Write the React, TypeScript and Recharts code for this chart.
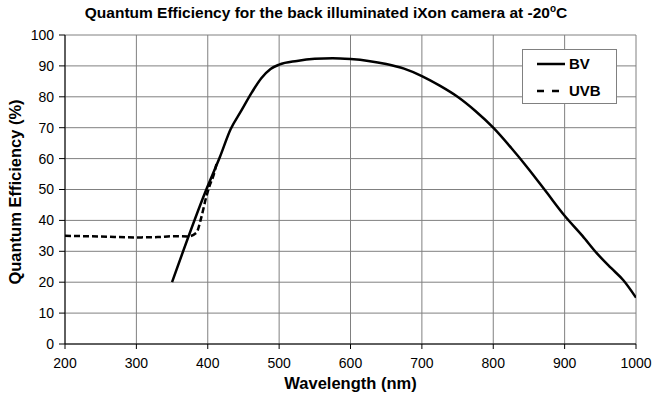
import { LineChart, Line, XAxis, YAxis, CartesianGrid } from 'recharts';

// BV (back illuminated, visible optimised) curve
const bvWavelength = [350, 398, 417, 432, 447, 462, 475, 488, 500, 525, 550, 575, 600, 625, 650, 675, 700, 725, 750, 775, 800, 825, 850, 875, 900, 925, 945, 965, 982, 1000];
const bvQE = [20, 50, 60.5, 69.5, 75.5, 81.5, 86, 89, 90.4, 91.6, 92.3, 92.5, 92.2, 91.6, 90.6, 89.1, 86.7, 83.6, 80, 75.4, 70, 63.5, 56.5, 49, 41.5, 35, 29.4, 24.6, 20.7, 15];

// UVB (UV coated) curve
const uvbWavelength = [200, 250, 300, 330, 350, 372, 384, 391, 398, 403, 408, 413];
const uvbQE = [35, 34.8, 34.5, 34.6, 34.9, 34.8, 36, 41, 47.7, 51.5, 54.5, 59];

const xTicks = [200, 300, 400, 500, 600, 700, 800, 900, 1000];
const yTicks = [0, 10, 20, 30, 40, 50, 60, 70, 80, 90, 100];

const bvData = bvWavelength.map((wl, i) => ({ wl, qe: bvQE[i] }));
const uvbData = uvbWavelength.map((wl, i) => ({ wl, qe: uvbQE[i] }));

const FONT = '"Liberation Sans", Arial, sans-serif';
const tickStyle = { fontSize: 14, fill: '#000', fontFamily: FONT };

function LegendBox() {
  const row = (label: string, dash?: string) => (
    <div style={{ display: 'flex', alignItems: 'center', height: 27 }}>
      <svg width={32} height={10} style={{ marginLeft: 12 }}>
        <line x1={2} y1={5} x2={30} y2={5} stroke="#000" strokeWidth={2.5} strokeDasharray={dash} />
      </svg>
      <span style={{ fontFamily: FONT, fontWeight: 'bold', fontSize: 15, marginLeft: 2 }}>{label}</span>
    </div>
  );
  return (
    <div
      style={{
        position: 'absolute',
        left: 522,
        top: 49,
        width: 95,
        height: 55,
        border: '1px solid #808080',
        background: '#fff',
        boxSizing: 'border-box',
      }}
    >
      {row('BV')}
      {row('UVB', '7 8')}
    </div>
  );
}

export default function App() {
  return (
    <div style={{ position: 'absolute', left: 0, top: 0, width: 652, height: 400, background: '#fff' }}>
      <LineChart width={652} height={400} margin={{ top: 35, right: 16, bottom: 26, left: 0 }}>
        <CartesianGrid stroke="#808080" strokeWidth={1} />
        <XAxis
          type="number"
          dataKey="wl"
          domain={[200, 1000]}
          ticks={xTicks}
          interval={0}
          height={30}
          stroke="#000"
          tickSize={5}
          tickMargin={9}
          tick={tickStyle}
          allowDataOverflow
        />
        <YAxis
          type="number"
          domain={[0, 100]}
          ticks={yTicks}
          interval={0}
          width={65}
          stroke="#000"
          tickSize={6}
          tickMargin={5}
          tick={tickStyle}
        />
        <Line
          data={bvData}
          dataKey="qe"
          name="BV"
          type="monotone"
          stroke="#000"
          strokeWidth={2.5}
          dot={false}
          activeDot={false}
          isAnimationActive={false}
        />
        <Line
          data={uvbData}
          dataKey="qe"
          name="UVB"
          type="monotone"
          stroke="#000"
          strokeWidth={2.5}
          strokeDasharray="6 3"
          dot={false}
          activeDot={false}
          isAnimationActive={false}
        />
      </LineChart>

      <LegendBox />

      <div
        style={{
          position: 'absolute',
          top: 3,
          left: 0,
          width: 652,
          textAlign: 'center',
          fontFamily: FONT,
          fontWeight: 'bold',
          fontSize: 15.5,
        }}
      >
        Quantum Efficiency for the back illuminated iXon camera at -20
        <sup style={{ fontSize: 10 }}>o</sup>C
      </div>

      <div
        style={{
          position: 'absolute',
          top: 374,
          left: 65,
          width: 571,
          textAlign: 'center',
          fontFamily: FONT,
          fontWeight: 'bold',
          fontSize: 16.5,
        }}
      >
        Wavelength (nm)
      </div>

      <div
        style={{
          position: 'absolute',
          left: 15,
          top: 192,
          transform: 'translate(-50%, -50%) rotate(-90deg)',
          whiteSpace: 'nowrap',
          fontFamily: FONT,
          fontWeight: 'bold',
          fontSize: 16.5,
        }}
      >
        Quantum Efficiency (%)
      </div>
    </div>
  );
}
